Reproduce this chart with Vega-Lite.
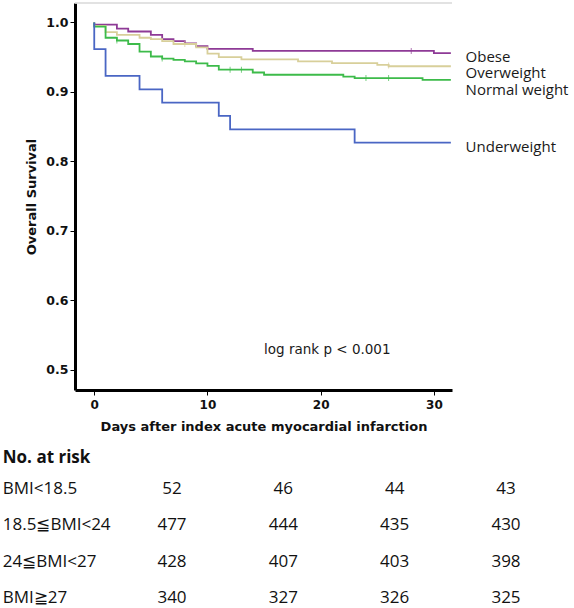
{
  "$schema": "https://vega.github.io/schema/vega-lite/v6.json",
  "padding": {"left": 2, "top": 2, "right": 0, "bottom": 0},
  "background": "white",
  "config": {"view": {"stroke": null}, "concat": {"spacing": 16}, "font": "Open Sans"},
  "datasets": {
    "curves": [
      {"group": "Obese", "i": 0, "day": 0, "surv": 1.0},
      {"group": "Obese", "i": 1, "day": 0, "surv": 0.997},
      {"group": "Obese", "i": 2, "day": 2, "surv": 0.991},
      {"group": "Obese", "i": 3, "day": 3, "surv": 0.987},
      {"group": "Obese", "i": 4, "day": 5, "surv": 0.982},
      {"group": "Obese", "i": 5, "day": 6, "surv": 0.976},
      {"group": "Obese", "i": 6, "day": 7, "surv": 0.973},
      {"group": "Obese", "i": 7, "day": 8, "surv": 0.970},
      {"group": "Obese", "i": 8, "day": 9, "surv": 0.966},
      {"group": "Obese", "i": 9, "day": 10, "surv": 0.962},
      {"group": "Obese", "i": 10, "day": 14, "surv": 0.959},
      {"group": "Obese", "i": 11, "day": 30, "surv": 0.956},
      {"group": "Obese", "i": 12, "day": 31.5, "surv": 0.956},
      {"group": "Overweight", "i": 0, "day": 0, "surv": 1.0},
      {"group": "Overweight", "i": 1, "day": 0, "surv": 0.995},
      {"group": "Overweight", "i": 2, "day": 1, "surv": 0.986},
      {"group": "Overweight", "i": 3, "day": 2, "surv": 0.982},
      {"group": "Overweight", "i": 4, "day": 4, "surv": 0.978},
      {"group": "Overweight", "i": 5, "day": 5, "surv": 0.976},
      {"group": "Overweight", "i": 6, "day": 6, "surv": 0.973},
      {"group": "Overweight", "i": 7, "day": 7, "surv": 0.969},
      {"group": "Overweight", "i": 8, "day": 9, "surv": 0.964},
      {"group": "Overweight", "i": 9, "day": 10, "surv": 0.955},
      {"group": "Overweight", "i": 10, "day": 11, "surv": 0.950},
      {"group": "Overweight", "i": 11, "day": 13, "surv": 0.947},
      {"group": "Overweight", "i": 12, "day": 18, "surv": 0.944},
      {"group": "Overweight", "i": 13, "day": 21, "surv": 0.9415},
      {"group": "Overweight", "i": 14, "day": 25, "surv": 0.939},
      {"group": "Overweight", "i": 15, "day": 26, "surv": 0.937},
      {"group": "Overweight", "i": 16, "day": 31.5, "surv": 0.937},
      {"group": "Normal weight", "i": 0, "day": 0, "surv": 1.0},
      {"group": "Normal weight", "i": 1, "day": 0, "surv": 0.994},
      {"group": "Normal weight", "i": 2, "day": 1, "surv": 0.978},
      {"group": "Normal weight", "i": 3, "day": 2, "surv": 0.974},
      {"group": "Normal weight", "i": 4, "day": 3, "surv": 0.969},
      {"group": "Normal weight", "i": 5, "day": 4, "surv": 0.958},
      {"group": "Normal weight", "i": 6, "day": 5, "surv": 0.951},
      {"group": "Normal weight", "i": 7, "day": 6, "surv": 0.948},
      {"group": "Normal weight", "i": 8, "day": 7, "surv": 0.946},
      {"group": "Normal weight", "i": 9, "day": 8, "surv": 0.944},
      {"group": "Normal weight", "i": 10, "day": 9, "surv": 0.941},
      {"group": "Normal weight", "i": 11, "day": 10, "surv": 0.9375},
      {"group": "Normal weight", "i": 12, "day": 11, "surv": 0.932},
      {"group": "Normal weight", "i": 13, "day": 14, "surv": 0.928},
      {"group": "Normal weight", "i": 14, "day": 15, "surv": 0.9247},
      {"group": "Normal weight", "i": 15, "day": 22, "surv": 0.922},
      {"group": "Normal weight", "i": 16, "day": 23, "surv": 0.920},
      {"group": "Normal weight", "i": 17, "day": 29, "surv": 0.9175},
      {"group": "Normal weight", "i": 18, "day": 31.5, "surv": 0.9175},
      {"group": "Underweight", "i": 0, "day": 0, "surv": 1.0},
      {"group": "Underweight", "i": 1, "day": 0, "surv": 0.9615},
      {"group": "Underweight", "i": 2, "day": 1, "surv": 0.9231},
      {"group": "Underweight", "i": 3, "day": 4, "surv": 0.9038},
      {"group": "Underweight", "i": 4, "day": 6, "surv": 0.8846},
      {"group": "Underweight", "i": 5, "day": 11, "surv": 0.8654},
      {"group": "Underweight", "i": 6, "day": 12, "surv": 0.8462},
      {"group": "Underweight", "i": 7, "day": 23, "surv": 0.8269},
      {"group": "Underweight", "i": 8, "day": 31.5, "surv": 0.8269}
    ],
    "censored": [
      {"group": "Obese", "day": 28, "surv": 0.959},
      {"group": "Overweight", "day": 8, "surv": 0.969},
      {"group": "Overweight", "day": 26, "surv": 0.938},
      {"group": "Normal weight", "day": 2, "surv": 0.974},
      {"group": "Normal weight", "day": 6, "surv": 0.948},
      {"group": "Normal weight", "day": 12, "surv": 0.932},
      {"group": "Normal weight", "day": 13, "surv": 0.932},
      {"group": "Normal weight", "day": 24, "surv": 0.920},
      {"group": "Normal weight", "day": 26, "surv": 0.920}
    ],
    "labels": [
      {"group": "Obese", "ly": 0.9505},
      {"group": "Overweight", "ly": 0.9276},
      {"group": "Normal weight", "ly": 0.9027},
      {"group": "Underweight", "ly": 0.821}
    ],
    "rowlabels": [
      {"bmi": "BMI<18.5", "col": -15.2},
      {"bmi": "18.5≦BMI<24", "col": -15.2},
      {"bmi": "24≦BMI<27", "col": -15.2},
      {"bmi": "BMI≧27", "col": -15.2}
    ],
    "risk": [
      {"bmi": "BMI<18.5", "day": 0, "n": 52},
      {"bmi": "BMI<18.5", "day": 10, "n": 46},
      {"bmi": "BMI<18.5", "day": 20, "n": 44},
      {"bmi": "BMI<18.5", "day": 30, "n": 43},
      {"bmi": "18.5≦BMI<24", "day": 0, "n": 477},
      {"bmi": "18.5≦BMI<24", "day": 10, "n": 444},
      {"bmi": "18.5≦BMI<24", "day": 20, "n": 435},
      {"bmi": "18.5≦BMI<24", "day": 30, "n": 430},
      {"bmi": "24≦BMI<27", "day": 0, "n": 428},
      {"bmi": "24≦BMI<27", "day": 10, "n": 407},
      {"bmi": "24≦BMI<27", "day": 20, "n": 403},
      {"bmi": "24≦BMI<27", "day": 30, "n": 398},
      {"bmi": "BMI≧27", "day": 0, "n": 340},
      {"bmi": "BMI≧27", "day": 10, "n": 327},
      {"bmi": "BMI≧27", "day": 20, "n": 326},
      {"bmi": "BMI≧27", "day": 30, "n": 325}
    ]
  },
  "vconcat": [
    {
      "width": 377,
      "height": 387,
      "layer": [
        {
          "data": {"values": [{"edge": "top"}]},
          "mark": {"type": "rule", "color": "#d9d9d9", "strokeWidth": 1.5},
          "encoding": {"y": {"datum": 1.028, "type": "quantitative"}}
        },
        {
          "data": {"name": "curves"},
          "mark": {"type": "line", "interpolate": "step-after", "strokeWidth": 1.8},
          "encoding": {
            "x": {
              "field": "day", "type": "quantitative",
              "scale": {"domain": [-1.7, 31.6], "nice": false, "zero": false},
              "axis": {
                "values": [0, 10, 20, 30], "grid": false,
                "title": "Days after index acute myocardial infarction",
                "domainColor": "black", "domainWidth": 3,
                "tickColor": "black", "tickSize": 5, "tickWidth": 1,
                "labelFont": "DejaVu Sans", "labelFontSize": 12, "labelFontWeight": "bold", "labelColor": "#111",
                "labelPadding": 4,
                "titleFont": "DejaVu Sans", "titleFontSize": 13, "titleFontWeight": "bold", "titleColor": "#111",
                "titlePadding": 10
              }
            },
            "y": {
              "field": "surv", "type": "quantitative",
              "scale": {"domain": [0.471, 1.028], "nice": false, "zero": false},
              "axis": {
                "values": [0.5, 0.6, 0.7, 0.8, 0.9, 1.0], "format": ".1f", "grid": false,
                "title": "Overall Survival",
                "domainColor": "black", "domainWidth": 3,
                "tickColor": "black", "tickSize": 5, "tickWidth": 1,
                "labelFont": "DejaVu Sans", "labelFontSize": 12.5, "labelFontWeight": "bold", "labelColor": "#111",
                "labelPadding": 2,
                "titleFont": "DejaVu Sans", "titleFontSize": 13, "titleFontWeight": "bold", "titleColor": "#111",
                "titlePadding": 7
              }
            },
            "color": {
              "field": "group", "type": "nominal",
              "scale": {"domain": ["Obese", "Overweight", "Normal weight", "Underweight"], "range": ["#8e3a96", "#d8cf9a", "#3dbb4a", "#4a66c4"]},
              "legend": null
            },
            "order": {"field": "i", "type": "quantitative"}
          }
        },
        {
          "data": {"name": "censored"},
          "mark": {"type": "tick", "orient": "vertical", "size": 6, "thickness": 1},
          "encoding": {
            "x": {"field": "day", "type": "quantitative"},
            "y": {"field": "surv", "type": "quantitative"},
            "color": {"field": "group", "type": "nominal", "legend": null}
          }
        },
        {
          "data": {"name": "labels"},
          "mark": {"type": "text", "align": "left", "baseline": "middle", "font": "Open Sans", "fontSize": 15, "color": "#1a1a1a"},
          "encoding": {
            "x": {"datum": 32.8, "type": "quantitative"},
            "y": {"field": "ly", "type": "quantitative"},
            "text": {"field": "group"}
          }
        },
        {
          "data": {"values": [{"note": "log rank p < 0.001"}]},
          "mark": {"type": "text", "align": "left", "baseline": "middle", "font": "DejaVu Sans", "fontSize": 13.5, "color": "#1a1a1a"},
          "encoding": {
            "x": {"datum": 15, "type": "quantitative"},
            "y": {"datum": 0.529, "type": "quantitative"},
            "text": {"field": "note"}
          }
        }
      ]
    },
    {
      "width": 377,
      "height": 145,
      "title": {"text": "No. at risk", "anchor": "start", "frame": "bounds", "font": "Open Sans", "fontSize": 17, "fontWeight": "bold", "color": "#111", "offset": 4},
      "layer": [
        {
          "data": {"name": "risk"},
          "mark": {"type": "text", "font": "Open Sans", "fontSize": 17, "color": "#111", "baseline": "middle"},
          "encoding": {
            "x": {"field": "day", "type": "quantitative", "scale": {"domain": [0, 30], "range": [97, 431]}, "axis": null},
            "y": {"field": "bmi", "type": "nominal", "sort": ["BMI<18.5", "18.5≦BMI<24", "24≦BMI<27", "BMI≧27"], "axis": null},
            "text": {"field": "n", "type": "quantitative"}
          }
        },
        {
          "data": {"name": "rowlabels"},
          "mark": {"type": "text", "font": "Open Sans", "fontSize": 17, "color": "#111", "baseline": "middle", "align": "left"},
          "encoding": {
            "x": {"field": "col", "type": "quantitative"},
            "y": {"field": "bmi", "type": "nominal", "sort": ["BMI<18.5", "18.5≦BMI<24", "24≦BMI<27", "BMI≧27"], "axis": null},
            "text": {"field": "bmi"}
          }
        }
      ]
    }
  ]
}
